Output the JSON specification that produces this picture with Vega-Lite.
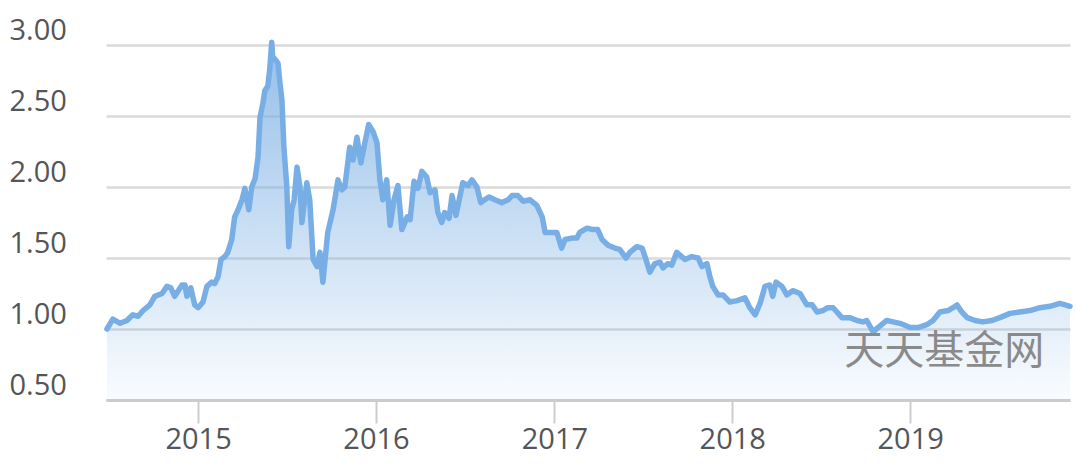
{
  "$schema": "https://vega.github.io/schema/vega-lite/v6.json",
  "width": 964,
  "height": 355,
  "autosize": {"type": "none"},
  "padding": {"left": 106, "top": 45, "right": 6, "bottom": 64},
  "background": "#ffffff",
  "config": {
    "view": {"stroke": null},
    "font": "Open Sans"
  },
  "datasets": {
    "nav": [
      {"date": "2014-06-28", "value": 1.00},
      {"date": "2014-07-10", "value": 1.07},
      {"date": "2014-07-25", "value": 1.04},
      {"date": "2014-08-08", "value": 1.06},
      {"date": "2014-08-20", "value": 1.10},
      {"date": "2014-08-31", "value": 1.09},
      {"date": "2014-09-10", "value": 1.13},
      {"date": "2014-09-24", "value": 1.17},
      {"date": "2014-10-04", "value": 1.23},
      {"date": "2014-10-19", "value": 1.25},
      {"date": "2014-10-29", "value": 1.30},
      {"date": "2014-11-06", "value": 1.29},
      {"date": "2014-11-14", "value": 1.23},
      {"date": "2014-11-29", "value": 1.31},
      {"date": "2014-12-05", "value": 1.31},
      {"date": "2014-12-09", "value": 1.23},
      {"date": "2014-12-17", "value": 1.29},
      {"date": "2014-12-25", "value": 1.17},
      {"date": "2015-01-01", "value": 1.15},
      {"date": "2015-01-11", "value": 1.19},
      {"date": "2015-01-19", "value": 1.30},
      {"date": "2015-01-29", "value": 1.33},
      {"date": "2015-02-04", "value": 1.32},
      {"date": "2015-02-11", "value": 1.37},
      {"date": "2015-02-17", "value": 1.49},
      {"date": "2015-02-25", "value": 1.51},
      {"date": "2015-03-03", "value": 1.54},
      {"date": "2015-03-11", "value": 1.63},
      {"date": "2015-03-17", "value": 1.79},
      {"date": "2015-03-24", "value": 1.84},
      {"date": "2015-04-01", "value": 1.91},
      {"date": "2015-04-07", "value": 1.99},
      {"date": "2015-04-15", "value": 1.84},
      {"date": "2015-04-21", "value": 2.00},
      {"date": "2015-04-28", "value": 2.06},
      {"date": "2015-05-04", "value": 2.21},
      {"date": "2015-05-08", "value": 2.49},
      {"date": "2015-05-14", "value": 2.59},
      {"date": "2015-05-18", "value": 2.68},
      {"date": "2015-05-24", "value": 2.71},
      {"date": "2015-05-28", "value": 2.83},
      {"date": "2015-06-01", "value": 3.02},
      {"date": "2015-06-03", "value": 2.92},
      {"date": "2015-06-10", "value": 2.89},
      {"date": "2015-06-14", "value": 2.87},
      {"date": "2015-06-18", "value": 2.73},
      {"date": "2015-06-22", "value": 2.61},
      {"date": "2015-06-26", "value": 2.28},
      {"date": "2015-07-02", "value": 2.00},
      {"date": "2015-07-06", "value": 1.58},
      {"date": "2015-07-12", "value": 1.84},
      {"date": "2015-07-17", "value": 1.91},
      {"date": "2015-07-23", "value": 2.14},
      {"date": "2015-07-29", "value": 2.00},
      {"date": "2015-08-02", "value": 1.75},
      {"date": "2015-08-12", "value": 2.03},
      {"date": "2015-08-18", "value": 1.91},
      {"date": "2015-08-25", "value": 1.49},
      {"date": "2015-09-02", "value": 1.44},
      {"date": "2015-09-08", "value": 1.54},
      {"date": "2015-09-14", "value": 1.33},
      {"date": "2015-09-24", "value": 1.68},
      {"date": "2015-10-05", "value": 1.84},
      {"date": "2015-10-15", "value": 2.05},
      {"date": "2015-10-23", "value": 1.98},
      {"date": "2015-10-29", "value": 2.00},
      {"date": "2015-11-08", "value": 2.28},
      {"date": "2015-11-15", "value": 2.19},
      {"date": "2015-11-23", "value": 2.35},
      {"date": "2015-12-01", "value": 2.17},
      {"date": "2015-12-09", "value": 2.31},
      {"date": "2015-12-17", "value": 2.44},
      {"date": "2015-12-26", "value": 2.39},
      {"date": "2016-01-03", "value": 2.31},
      {"date": "2016-01-09", "value": 2.05},
      {"date": "2016-01-15", "value": 1.91},
      {"date": "2016-01-23", "value": 2.05},
      {"date": "2016-01-30", "value": 1.73},
      {"date": "2016-02-07", "value": 1.91},
      {"date": "2016-02-15", "value": 2.01},
      {"date": "2016-02-23", "value": 1.70},
      {"date": "2016-03-05", "value": 1.79},
      {"date": "2016-03-11", "value": 1.77},
      {"date": "2016-03-19", "value": 2.04},
      {"date": "2016-03-27", "value": 1.99},
      {"date": "2016-04-04", "value": 2.11},
      {"date": "2016-04-14", "value": 2.07},
      {"date": "2016-04-21", "value": 1.96},
      {"date": "2016-05-01", "value": 1.98},
      {"date": "2016-05-07", "value": 1.82},
      {"date": "2016-05-15", "value": 1.75},
      {"date": "2016-05-21", "value": 1.82},
      {"date": "2016-05-30", "value": 1.78},
      {"date": "2016-06-05", "value": 1.94},
      {"date": "2016-06-13", "value": 1.80},
      {"date": "2016-06-21", "value": 1.93},
      {"date": "2016-06-27", "value": 2.03},
      {"date": "2016-07-08", "value": 2.01},
      {"date": "2016-07-16", "value": 2.05},
      {"date": "2016-07-26", "value": 2.00},
      {"date": "2016-08-03", "value": 1.89},
      {"date": "2016-08-11", "value": 1.91},
      {"date": "2016-08-20", "value": 1.93},
      {"date": "2016-09-01", "value": 1.91},
      {"date": "2016-09-15", "value": 1.89},
      {"date": "2016-09-28", "value": 1.91},
      {"date": "2016-10-06", "value": 1.94},
      {"date": "2016-10-18", "value": 1.94},
      {"date": "2016-10-29", "value": 1.90},
      {"date": "2016-11-12", "value": 1.91},
      {"date": "2016-11-26", "value": 1.87},
      {"date": "2016-12-07", "value": 1.79},
      {"date": "2016-12-13", "value": 1.68},
      {"date": "2016-12-27", "value": 1.68},
      {"date": "2017-01-06", "value": 1.68},
      {"date": "2017-01-16", "value": 1.57},
      {"date": "2017-01-23", "value": 1.63},
      {"date": "2017-02-06", "value": 1.64},
      {"date": "2017-02-16", "value": 1.64},
      {"date": "2017-02-22", "value": 1.68},
      {"date": "2017-03-09", "value": 1.71},
      {"date": "2017-03-21", "value": 1.70},
      {"date": "2017-03-31", "value": 1.70},
      {"date": "2017-04-09", "value": 1.63},
      {"date": "2017-04-21", "value": 1.59},
      {"date": "2017-05-05", "value": 1.57},
      {"date": "2017-05-15", "value": 1.56},
      {"date": "2017-05-28", "value": 1.50},
      {"date": "2017-06-05", "value": 1.54},
      {"date": "2017-06-19", "value": 1.58},
      {"date": "2017-06-30", "value": 1.57},
      {"date": "2017-07-06", "value": 1.51},
      {"date": "2017-07-16", "value": 1.40},
      {"date": "2017-07-26", "value": 1.46},
      {"date": "2017-08-06", "value": 1.47},
      {"date": "2017-08-12", "value": 1.43},
      {"date": "2017-08-22", "value": 1.46},
      {"date": "2017-08-30", "value": 1.45},
      {"date": "2017-09-09", "value": 1.54},
      {"date": "2017-09-26", "value": 1.49},
      {"date": "2017-10-10", "value": 1.51},
      {"date": "2017-10-23", "value": 1.50},
      {"date": "2017-10-31", "value": 1.44},
      {"date": "2017-11-10", "value": 1.46},
      {"date": "2017-11-16", "value": 1.37},
      {"date": "2017-11-22", "value": 1.30},
      {"date": "2017-12-03", "value": 1.24},
      {"date": "2017-12-13", "value": 1.24},
      {"date": "2017-12-27", "value": 1.19},
      {"date": "2018-01-11", "value": 1.20},
      {"date": "2018-01-27", "value": 1.22},
      {"date": "2018-02-06", "value": 1.15},
      {"date": "2018-02-17", "value": 1.10},
      {"date": "2018-02-27", "value": 1.18},
      {"date": "2018-03-09", "value": 1.30},
      {"date": "2018-03-19", "value": 1.31},
      {"date": "2018-03-25", "value": 1.23},
      {"date": "2018-04-01", "value": 1.33},
      {"date": "2018-04-13", "value": 1.30},
      {"date": "2018-04-23", "value": 1.24},
      {"date": "2018-05-05", "value": 1.27},
      {"date": "2018-05-20", "value": 1.25},
      {"date": "2018-06-03", "value": 1.17},
      {"date": "2018-06-14", "value": 1.17},
      {"date": "2018-06-24", "value": 1.12},
      {"date": "2018-07-06", "value": 1.13},
      {"date": "2018-07-16", "value": 1.15},
      {"date": "2018-07-27", "value": 1.15},
      {"date": "2018-08-14", "value": 1.08},
      {"date": "2018-08-30", "value": 1.08},
      {"date": "2018-09-14", "value": 1.06},
      {"date": "2018-09-26", "value": 1.05},
      {"date": "2018-10-04", "value": 1.06},
      {"date": "2018-10-17", "value": 0.98},
      {"date": "2018-10-27", "value": 1.01},
      {"date": "2018-11-14", "value": 1.06},
      {"date": "2018-11-27", "value": 1.05},
      {"date": "2018-12-11", "value": 1.04},
      {"date": "2019-01-01", "value": 1.01},
      {"date": "2019-01-17", "value": 1.01},
      {"date": "2019-02-04", "value": 1.03},
      {"date": "2019-02-17", "value": 1.06},
      {"date": "2019-03-03", "value": 1.12},
      {"date": "2019-03-20", "value": 1.13},
      {"date": "2019-03-30", "value": 1.15},
      {"date": "2019-04-07", "value": 1.17},
      {"date": "2019-04-17", "value": 1.12},
      {"date": "2019-04-28", "value": 1.08},
      {"date": "2019-05-14", "value": 1.06},
      {"date": "2019-05-30", "value": 1.05},
      {"date": "2019-06-18", "value": 1.06},
      {"date": "2019-07-04", "value": 1.08},
      {"date": "2019-07-25", "value": 1.11},
      {"date": "2019-08-14", "value": 1.12},
      {"date": "2019-09-04", "value": 1.13},
      {"date": "2019-09-24", "value": 1.15},
      {"date": "2019-10-15", "value": 1.16},
      {"date": "2019-11-04", "value": 1.18},
      {"date": "2019-11-15", "value": 1.17},
      {"date": "2019-11-25", "value": 1.16}
    ]
  },
  "layer": [
    {
      "data": {"name": "nav"},
      "mark": {
        "type": "area",
        "color": {
          "gradient": "linear",
          "x1": 0, "y1": 0, "x2": 0, "y2": 1,
          "stops": [
            {"offset": 0, "color": "rgba(122,175,227,0.8)"},
            {"offset": 1, "color": "rgba(122,175,227,0.04)"}
          ]
        }
      },
      "encoding": {
        "x": {
          "field": "date", "type": "temporal",
          "scale": {"type": "utc", "domain": [{"year": 2014, "month": 6, "date": 26, "utc": true}, {"year": 2019, "month": 11, "date": 25, "utc": true}]},
          "axis": {
            "title": null,
            "format": "%Y",
            "formatType": "utc",
            "tickCount": {"interval": "year", "step": 1},
            "grid": false,
            "domainColor": "#cccccc",
            "domainWidth": 3,
            "tickColor": "#cccccc",
            "tickWidth": 2,
            "tickSize": 23,
            "labelPadding": 2,
            "labelFont": "Open Sans",
            "labelFontSize": 29,
            "labelColor": "#555555"
          }
        },
        "y": {
          "field": "value", "type": "quantitative",
          "scale": {"domain": [0.5, 3.0], "zero": false, "nice": false},
          "axis": {
            "title": null,
            "values": [0.5, 1.0, 1.5, 2.0, 2.5, 3.0],
            "format": ".2f",
            "domain": false,
            "ticks": false,
            "tickSize": 0,
            "grid": true,
            "gridColor": "#dadada",
            "gridWidth": 2.5,
            "labelAlign": "left",
            "labelBaseline": "middle",
            "labelPadding": 97,
            "labelOffset": -15,
            "labelFont": "Open Sans",
            "labelFontSize": 29,
            "labelColor": "#555555"
          }
        },
        "y2": {"datum": 0.5}
      }
    },
    {
      "data": {"name": "nav"},
      "mark": {"type": "line", "color": "#78aee6", "strokeWidth": 5.5, "strokeJoin": "round", "strokeCap": "round"},
      "encoding": {
        "x": {"field": "date", "type": "temporal"},
        "y": {"field": "value", "type": "quantitative"}
      }
    },
    {
      "data": {"values": [{"label": "天天基金网"}]},
      "mark": {"type": "text", "font": "Noto Sans CJK SC", "fontSize": 40, "color": "#8a8a8a", "align": "center", "baseline": "middle"},
      "encoding": {
        "text": {"field": "label"},
        "x": {"datum": {"year": 2019, "month": 3, "date": 12, "utc": true}, "type": "temporal"},
        "y": {"datum": 0.84, "type": "quantitative"}
      }
    }
  ]
}
